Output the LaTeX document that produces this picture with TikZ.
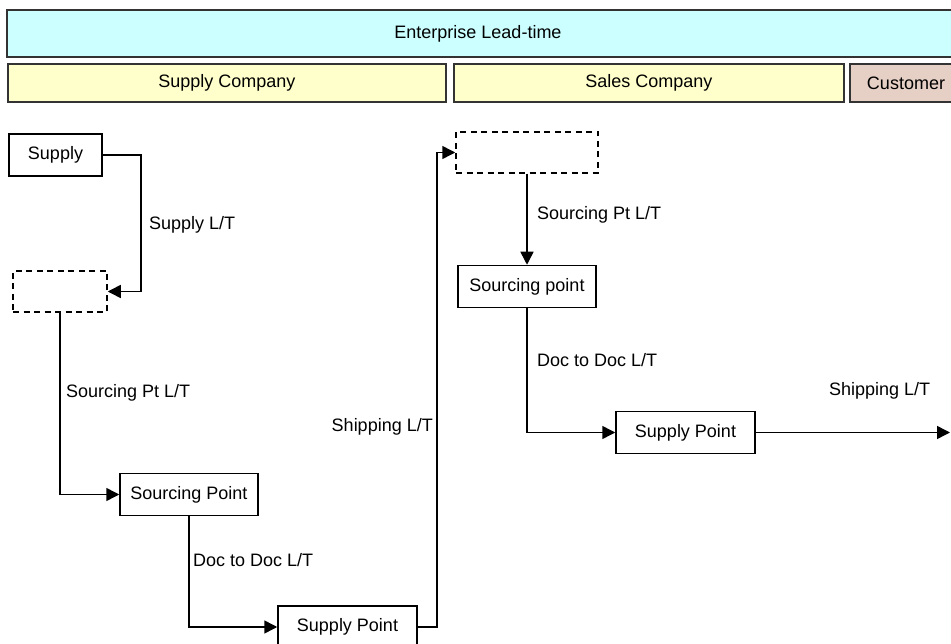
\documentclass[tikz,border=0pt]{standalone}
\usepackage{fontspec}
\setmainfont{Liberation Sans}
\usetikzlibrary{arrows.meta}
\definecolor{leadcyan}{HTML}{CCFFFF}
\definecolor{coyellow}{HTML}{FFFFCC}
\definecolor{custrose}{HTML}{E6CFC4}
\definecolor{barline}{HTML}{333333}
\begin{document}
\begin{tikzpicture}[x=1pt,y=-1pt,
  font=\fontsize{18}{20}\selectfont,
  bar/.style={draw=barline, line width=1.6pt},
  barbox/.style={bar, inner sep=0pt, minimum height=38pt},
  stepbox/.style={draw=black, line width=1.5pt, fill=white, inner sep=0pt, minimum height=42pt},
  ghostbox/.style={draw=black, line width=1.5pt, dash pattern=on 6pt off 4.5pt, inner sep=0pt, minimum height=41pt},
  conn/.style={draw=black, line width=1.5pt, -{Triangle[length=13pt,width=13pt]}},
  ltlabel/.style={inner sep=0pt, anchor=west}]
\useasboundingbox (0,0) rectangle (951,644);
\clip (0,0) rectangle (951,644);
\fill[white] (0,0) rectangle (951,644);

% header bands
\draw[bar, fill=leadcyan] (7,10) rectangle (965,57);
\node (ent) at (478,34) {Enterprise Lead-time};
\node[barbox, fill=coyellow, minimum width=438pt] (supco) at (227,83) {Supply Company};
\node[barbox, fill=coyellow, minimum width=390pt] (salco) at (649,83) {Sales Company};
\draw[bar, fill=custrose] (850,64) rectangle (965,102);
\node (cust) at (906,83) {Customer};

% supply company side
\node[stepbox, minimum width=93pt] (supply) at (55.5,155) {Supply};
\node[ghostbox, minimum width=94pt] (dash1) at (60,291.5) {};
\node[stepbox, minimum width=138pt] (sp1) at (189,494.5) {Sourcing Point};
\node[stepbox, minimum width=139pt] (spt1) at (347.5,627) {Supply Point};

% sales company side
\node[ghostbox, minimum width=142pt] (dash2) at (527,152.5) {};
\node[stepbox, minimum width=138pt] (sp2) at (527,286.5) {Sourcing point};
\node[stepbox, minimum width=139pt] (spt2) at (685.5,432.5) {Supply Point};
\coordinate (out) at (950,432.5);

% lead-time connectors
\draw[conn] (supply.east) -- ++(38,0) |- (dash1.east);
\draw[conn] (dash1.south) |- (sp1.west);
\draw[conn] (sp1.south) |- (spt1.west);
\draw[conn] (spt1.east) -- ++(19,0) |- (dash2.west);
\draw[conn] (dash2.south) -- (sp2.north);
\draw[conn] (sp2.south) |- (spt2.west);
\draw[conn] (spt2.east) -- (out);

% lead-time labels
\node[ltlabel] (lt1) at (149,225) {Supply L/T};
\node[ltlabel] (lt2) at (66,393) {Sourcing Pt L/T};
\node[ltlabel] (lt3) at (193,560) {Doc to Doc L/T};
\node[ltlabel, anchor=east] (lt4) at (433,427) {Shipping L/T};
\node[ltlabel] (lt5) at (537,215) {Sourcing Pt L/T};
\node[ltlabel] (lt6) at (537,360) {Doc to Doc L/T};
\node[ltlabel] (lt7) at (829,391) {Shipping L/T};
\end{tikzpicture}
\end{document}
